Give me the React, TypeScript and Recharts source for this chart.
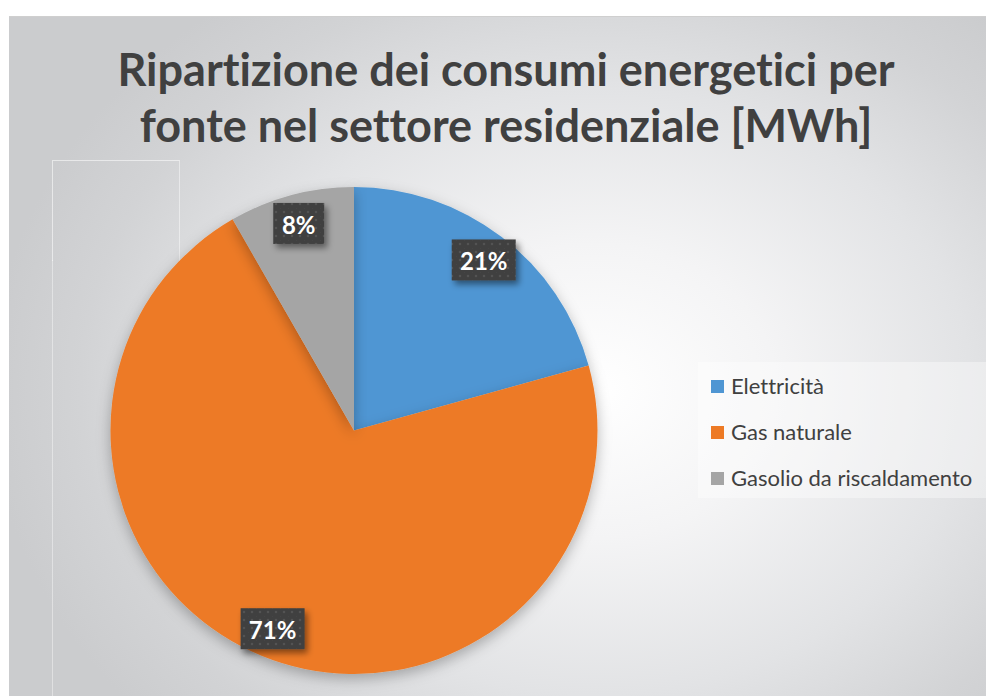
import React from 'react';
import { PieChart, Pie, Cell, Legend } from 'recharts';

const CATEGORIES = ['Elettricità', 'Gas naturale', 'Gasolio da riscaldamento'];
const SHARES = [20.7, 71.0, 8.3];
const COLORS = ['#4F96D3', '#ED7A25', '#A5A5A5'];
const TITLE_LINES = ['Ripartizione dei consumi energetici per', 'fonte nel settore residenziale [MWh]'];

const data = CATEGORIES.map((name, i) => ({ name, value: SHARES[i] }));

const RAD = Math.PI / 180;
const FONT = 'Lato, "Noto Sans", sans-serif';

const renderLabel = (props: any) => {
  const { cx, cy, midAngle, outerRadius, percent } = props;
  const r = outerRadius * 0.88;
  const x = cx + r * Math.cos(-midAngle * RAD);
  const y = cy + r * Math.sin(-midAngle * RAD);
  const text = `${Math.round(percent * 100)}%`;
  const w = 13 * text.length + 25;
  const h = 41;
  return (
    <g>
      <rect x={x - w / 2} y={y - h / 2} width={w} height={h} fill="url(#lblDots)" filter="url(#lblShadow)" />
      <text
        x={x}
        y={y + 1}
        textAnchor="middle"
        dominantBaseline="central"
        fill="#ffffff"
        fontFamily={FONT}
        fontWeight={700}
        fontSize={24}
      >
        {text}
      </text>
    </g>
  );
};

const LegendContent = (props: any) => {
  const { payload } = props;
  return (
    <div style={{ width: 288, height: 136, background: 'rgba(255,255,255,0.38)', position: 'relative' }}>
      {(payload || []).map((entry: any, i: number) => (
        <div
          key={i}
          style={{
            position: 'absolute',
            left: 13,
            top: 24 + i * 46 - 13,
            height: 26,
            display: 'flex',
            alignItems: 'center',
            whiteSpace: 'nowrap',
          }}
        >
          <span style={{ display: 'inline-block', width: 13, height: 13, background: entry.color, marginRight: 7 }} />
          <span style={{ fontFamily: FONT, fontSize: 22, color: '#404040', lineHeight: '26px', fontVariantLigatures: 'none' }}>
            {entry.value}
          </span>
        </div>
      ))}
    </div>
  );
};

export default function App() {
  return (
    <div style={{ position: 'absolute', left: 0, top: 0, width: 986, height: 696, background: '#ffffff', overflow: 'hidden' }}>
      <svg width={0} height={0} style={{ position: 'absolute' }}>
        <defs>
          <pattern id="lblDots" width={8} height={8} patternUnits="userSpaceOnUse">
            <rect width={8} height={8} fill="#404040" />
            <circle cx={4} cy={4} r={1.3} fill="#535353" />
            <circle cx={0} cy={0} r={0.8} fill="#4a4a4a" />
          </pattern>
          <filter id="lblShadow" x="-30%" y="-30%" width="160%" height="160%">
            <feDropShadow dx={3} dy={4} stdDeviation={3} floodColor="#000" floodOpacity={0.45} />
          </filter>
          <filter id="pieShadow" x="-10%" y="-10%" width="120%" height="125%">
            <feDropShadow dx={0} dy={5} stdDeviation={7} floodColor="#000" floodOpacity={0.28} />
          </filter>
        </defs>
      </svg>
      <div
        style={{
          position: 'absolute',
          left: 9,
          top: 16,
          width: 977,
          height: 680,
          borderTop: '1px solid #cfcfcf',
          background:
            'radial-gradient(ellipse 62% 72% at 60% 55%, #ffffff 0%, #f4f4f5 30%, #e2e3e5 62%, #d2d3d5 85%, #cbccce 100%)',
        }}
      />
      <div style={{ position: 'absolute', left: 52, top: 160, width: 126, height: 100, borderTop: '1px solid rgba(255,255,255,0.55)', borderLeft: '1px solid rgba(255,255,255,0.55)', borderRight: '1px solid rgba(255,255,255,0.45)' }} />
      <div style={{ position: 'absolute', left: 52, top: 260, width: 1, height: 436, background: 'rgba(255,255,255,0.4)' }} />
      {TITLE_LINES.map((line, i) => (
        <div
          key={i}
          style={{
            position: 'absolute',
            left: 0,
            width: 1012,
            top: 41 + i * 56,
            height: 56,
            lineHeight: '56px',
            textAlign: 'center',
            fontFamily: FONT,
            fontWeight: 700,
            fontSize: 45,
            color: '#404040',
            whiteSpace: 'nowrap',
            fontVariantLigatures: 'none',
          }}
        >
          {line}
        </div>
      ))}
      <div style={{ position: 'absolute', left: 0, top: 0 }}>
        <PieChart width={986} height={696} margin={{ top: 0, right: 0, bottom: 0, left: 0 }}>
          <Pie
            data={data}
            dataKey="value"
            nameKey="name"
            cx={354}
            cy={430.5}
            outerRadius={243.5}
            startAngle={90}
            endAngle={-270}
            stroke="none"
            labelLine={false}
            label={renderLabel}
            isAnimationActive={false}
            style={{ filter: 'url(#pieShadow)' }}
          >
            {data.map((d, i) => (
              <Cell key={d.name} fill={COLORS[i]} />
            ))}
          </Pie>
          <Legend
            layout="vertical"
            align="right"
            verticalAlign="middle"
            content={<LegendContent />}
            wrapperStyle={{ left: 698, top: 362, width: 288, height: 136, right: 'auto', bottom: 'auto' }}
          />
        </PieChart>
      </div>
    </div>
  );
}
